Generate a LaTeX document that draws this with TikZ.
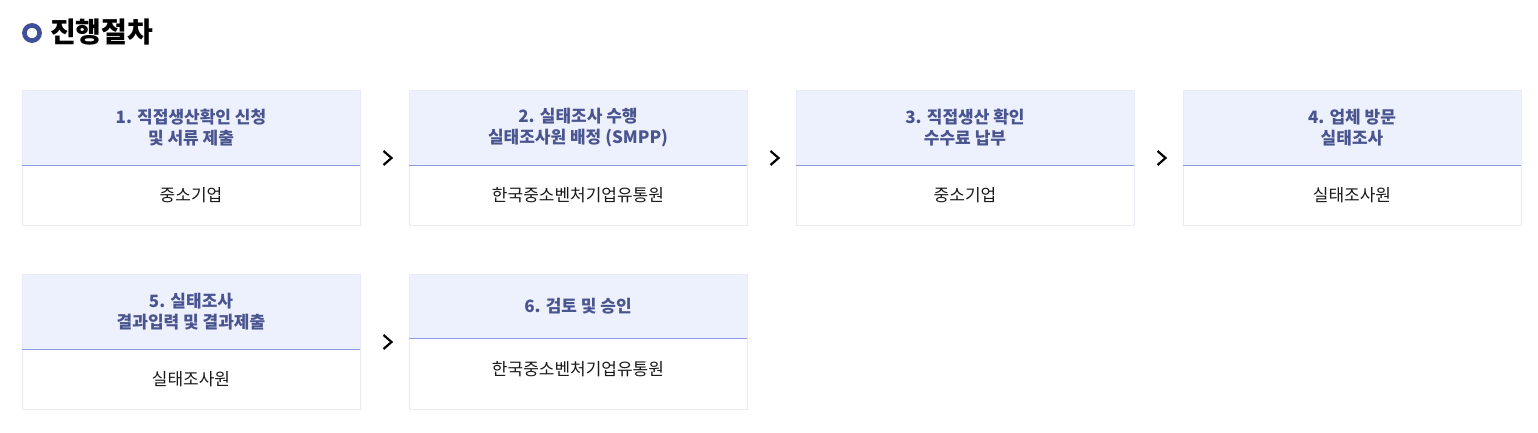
\documentclass[tikz,border=0pt]{standalone}
\usepackage{fontspec}
\setmainfont{Noto Sans CJK KR}
\usetikzlibrary{positioning,calc}

\definecolor{hdfill}{HTML}{EDF1FD}
\definecolor{hdtext}{HTML}{4A5590}
\definecolor{hdline}{HTML}{8C9BE3}
\definecolor{boxline}{HTML}{E9ECF6}
\definecolor{ringblue}{HTML}{3F4F9A}
\definecolor{bodytext}{HTML}{1A1A1A}

\tikzset{
  head/.style={draw=boxline, fill=hdfill, text=hdtext, minimum width=338pt,
    minimum height=75pt, inner sep=0pt, outer sep=0pt, align=center,
    font=\fontsize{17}{20.5}\selectfont\bfseries},
  body/.style={draw=boxline, fill=white, text=bodytext, minimum width=338pt,
    minimum height=60pt, inner sep=0pt, outer sep=0pt,
    font=\fontsize{17}{20}\selectfont},
  chev/.pic={\draw[line width=2.2pt, line join=miter] (-4,7) -- (4,0) -- (-4,-7);}
}

\begin{document}
\begin{tikzpicture}[x=1pt,y=1pt]
    \useasboundingbox (0,0) rectangle (1538,-432);
    % Title with ring
    \draw[ringblue, line width=4.6pt] (32,-33) circle (7.6);
    \node[anchor=west, inner sep=0pt, font=\fontsize{28}{30}\selectfont\bfseries] (title) at (50,-32) {진행절차};
    % First row
    \node[head, anchor=north west] (head1) at (22,-90) {1. 직접생산확인 신청\\ 및 서류 제출};
    \node[body, below=0pt of head1] (body1) {중소기업};
    \node[head, right=49pt of head1] (head2) {2. 실태조사 수행\\ 실태조사원 배정 (SMPP)};
    \node[body, below=0pt of head2] (body2) {한국중소벤처기업유통원};
    \node[head, right=49pt of head2] (head3) {3. 직접생산 확인\\ 수수료 납부};
    \node[body, below=0pt of head3] (body3) {중소기업};
    \node[head, right=49pt of head3] (head4) {4. 업체 방문\\ 실태조사};
    \node[body, below=0pt of head4] (body4) {실태조사원};
    % Second row
    \node[head, below=49pt of body1] (head5) {5. 실태조사\\ 결과입력 및 결과제출};
    \node[body, below=0pt of head5] (body5) {실태조사원};
    \node[head, minimum height=64pt, anchor=north west] (head6) at (head5.north east -| head2.west) {6. 검토 및 승인};
    \node[body, minimum height=71pt, below=0pt of head6, text depth=10pt] (body6) {한국중소벤처기업유통원};
    % Header rules
    \foreach \n in {1,...,6}
        \draw[hdline, line width=1pt] (head\n.south west) -- (head\n.south east);
    % Chevrons between steps
    \foreach \a/\b in {1/2,2/3,3/4}
        \pic at ($(head\a.south east)!0.5!(head\b.south west)+(3,7)$) {chev};
    \pic at ($(head5.south east)+(27.5,7)$) {chev};
\end{tikzpicture}
\end{document}
